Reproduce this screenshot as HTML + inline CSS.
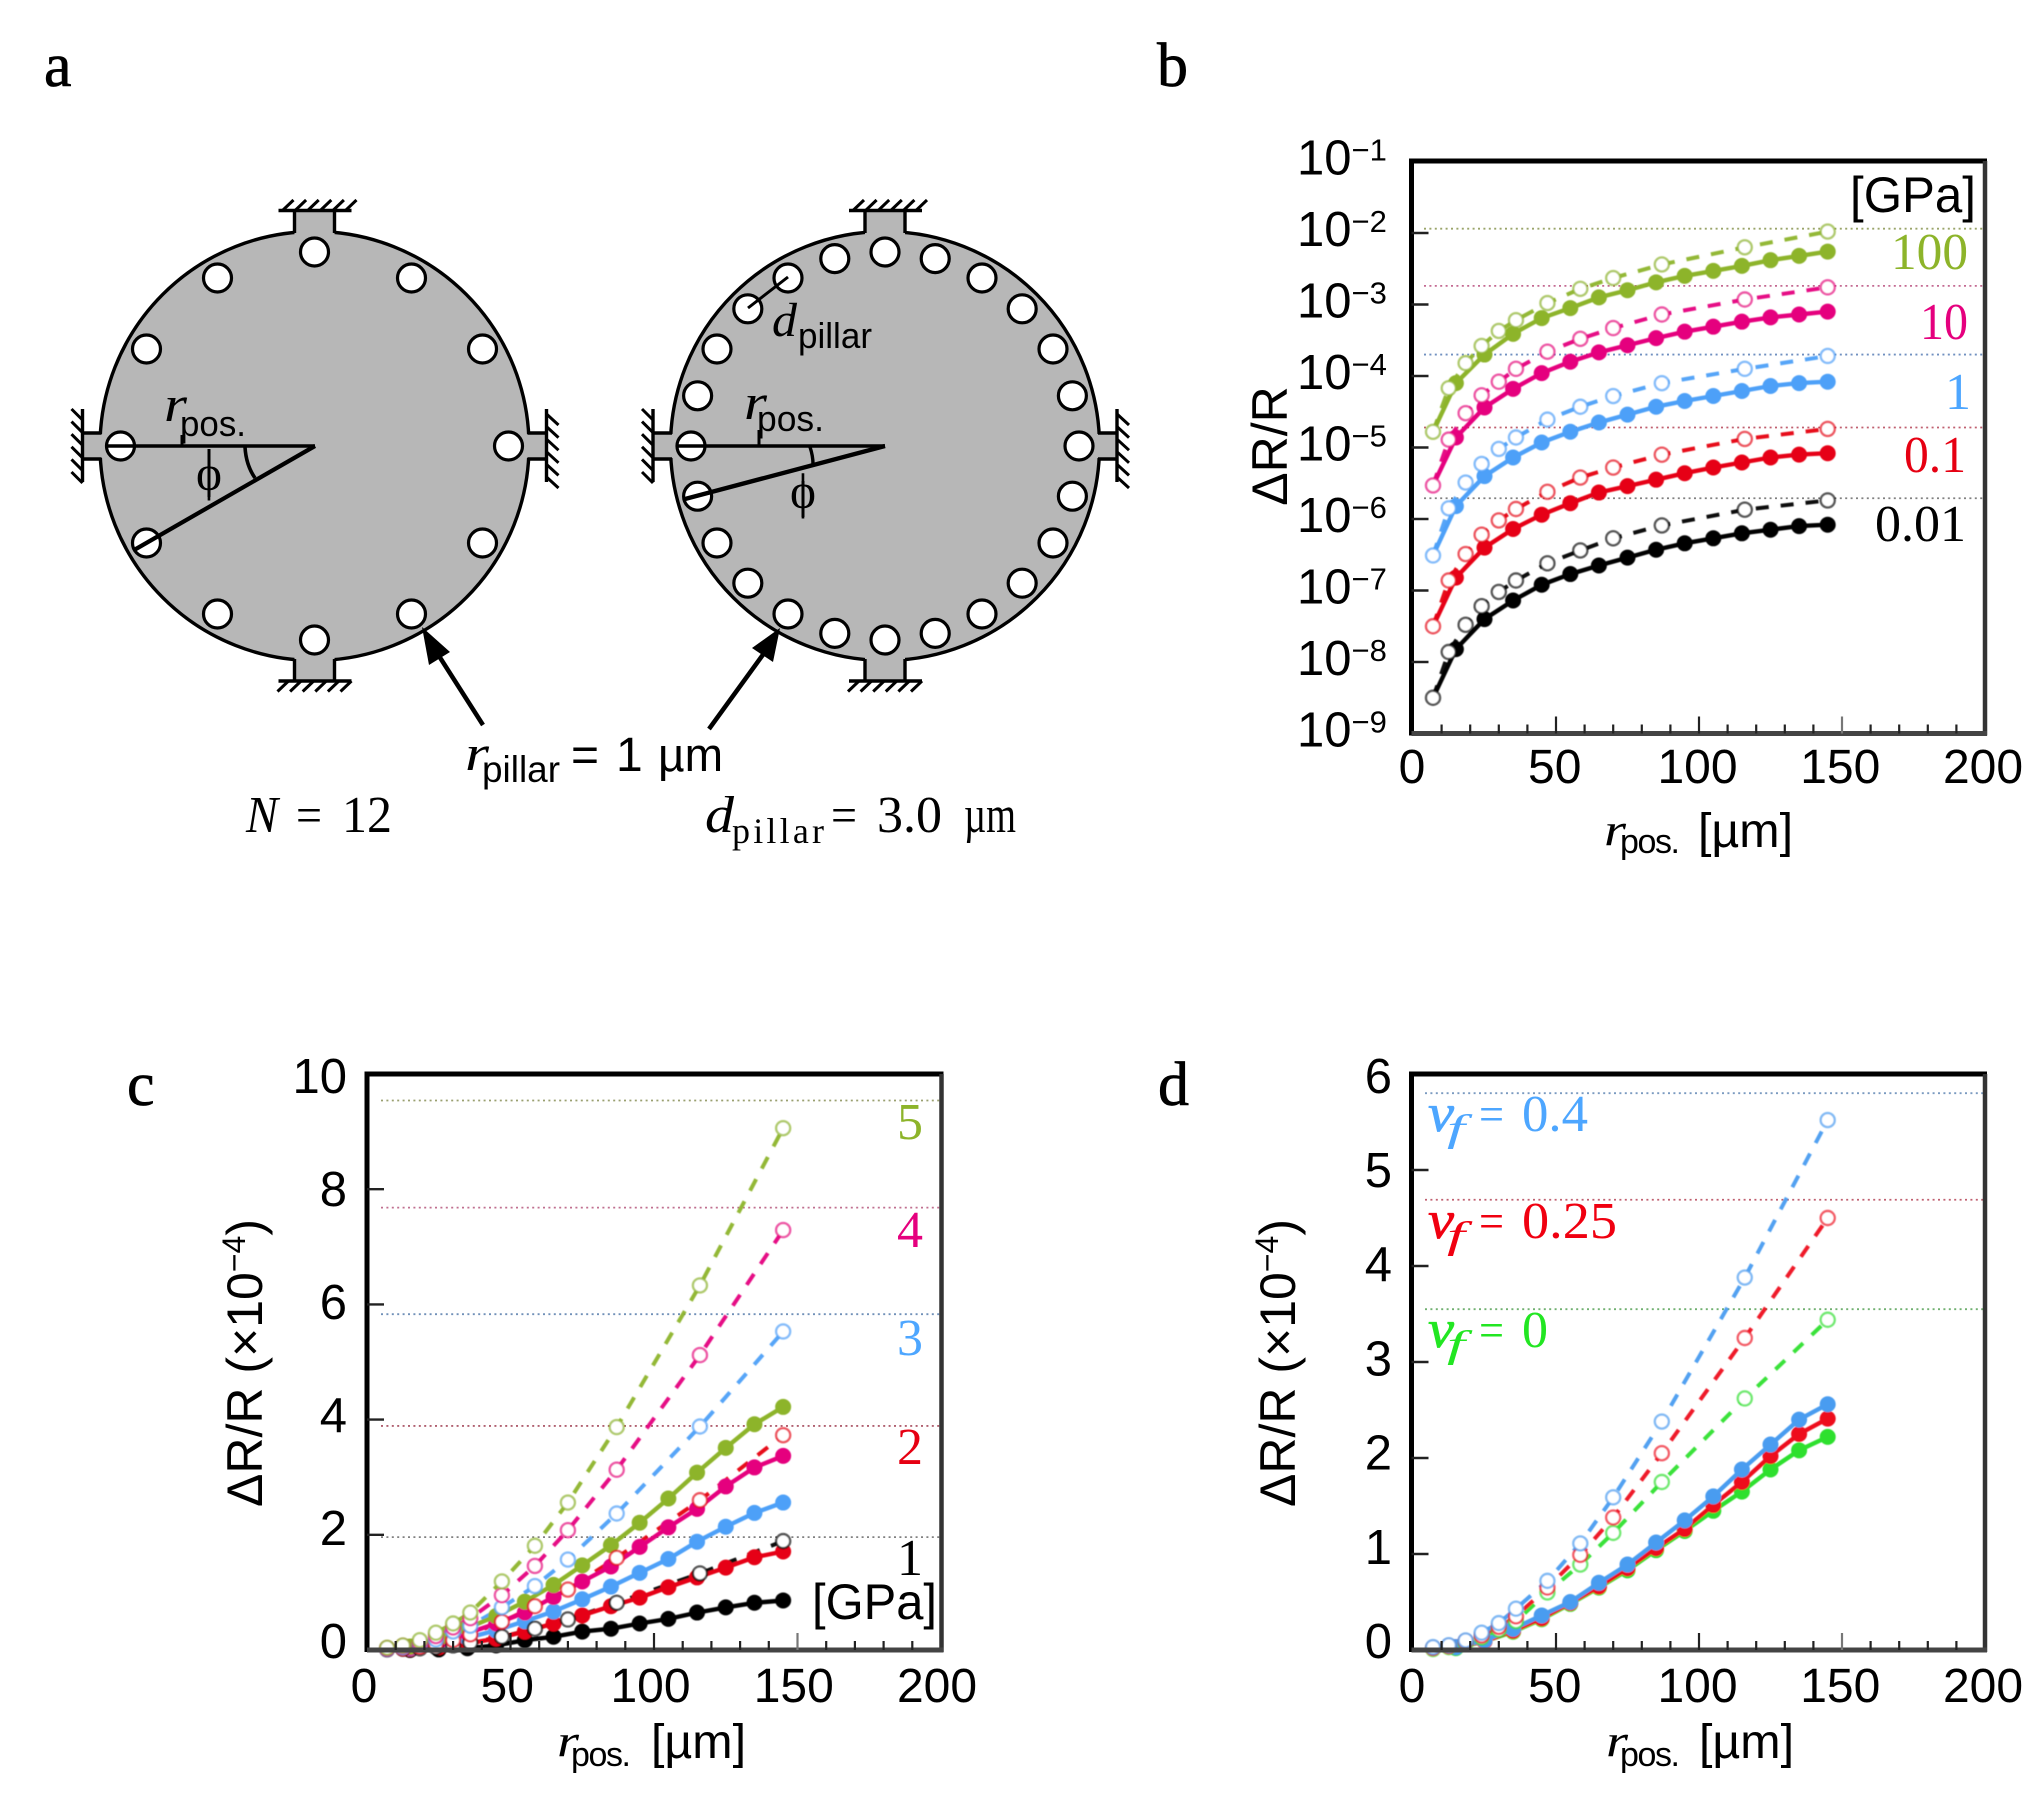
<!DOCTYPE html>
<html lang="en">
<head>
<meta charset="utf-8">
<title>Resistance change versus pillar position</title>
<style>
html,body{margin:0;padding:0;background:#fff;}
svg{display:block;}
.sans{font-family:"Liberation Sans",sans-serif;}
.serif{font-family:"Liberation Serif",serif;}
.it{font-family:"Liberation Serif",serif;font-style:italic;}
.heavy{stroke:currentColor;stroke-width:0.7;}
</style>
</head>
<body>
<svg id="figure" xmlns="http://www.w3.org/2000/svg" width="2044" height="1799" viewBox="0 0 2044 1799">
<defs>
<filter id="soft" x="-5%" y="-5%" width="110%" height="110%"><feGaussianBlur stdDeviation="0.55"/></filter>
</defs>
<rect width="2044" height="1799" fill="#fff"/>

<!-- panel letters -->
<text class="serif heavy" x="44" y="86" font-size="62" color="#000">a</text>
<text class="serif heavy" x="1157" y="86" font-size="62" color="#000">b</text>
<text class="serif heavy" x="127" y="1105" font-size="62" color="#000">c</text>
<text class="serif heavy" x="1158" y="1105" font-size="62" color="#000">d</text>

<g id="schematics"></g>

<!-- schematic annotations, left -->
<g>
<line x1="182" y1="435" x2="182" y2="446" stroke="#000" stroke-width="3"/>
<text class="it" x="164" y="421" font-size="50" textLength="23" lengthAdjust="spacingAndGlyphs">r</text>
<text class="sans" x="180" y="436" font-size="36" textLength="66" lengthAdjust="spacingAndGlyphs">pos.</text>
<text class="serif" x="209" y="490" font-size="50" text-anchor="middle" textLength="26" lengthAdjust="spacingAndGlyphs">ϕ</text>
<line x1="209" y1="449" x2="209" y2="497" stroke="#000" stroke-width="3"/>
</g>
<!-- schematic annotations, right -->
<g>
<line x1="759" y1="430" x2="759" y2="446" stroke="#000" stroke-width="3"/>
<text class="it" x="744" y="419" font-size="50" textLength="23" lengthAdjust="spacingAndGlyphs">r</text>
<text class="sans" x="757" y="431" font-size="36" textLength="67" lengthAdjust="spacingAndGlyphs">pos.</text>
<text class="serif" x="803" y="508" font-size="50" text-anchor="middle" textLength="26" lengthAdjust="spacingAndGlyphs">ϕ</text>
<line x1="803" y1="481" x2="803" y2="517" stroke="#000" stroke-width="3"/>
<line x1="748" y1="308" x2="788" y2="277" stroke="#000" stroke-width="3"/>
<text class="it" x="772" y="336" font-size="48" textLength="25" lengthAdjust="spacingAndGlyphs">d</text>
<text class="sans" x="798" y="348" font-size="36" textLength="74" lengthAdjust="spacingAndGlyphs">pillar</text>
</g>

<g>
<line x1="483" y1="725" x2="432" y2="645" stroke="#000" stroke-width="4.5"/>
<polygon points="422,627 450,652 429,665" fill="#000"/>
<line x1="709" y1="729" x2="770" y2="645" stroke="#000" stroke-width="4.5"/>
<polygon points="780,628 773,662 752,648" fill="#000"/>
<text class="it" x="465" y="770" font-size="50" textLength="24" lengthAdjust="spacingAndGlyphs">r</text>
<text class="sans" x="482" y="782" font-size="37" textLength="78" lengthAdjust="spacingAndGlyphs">pillar</text>
<text class="sans" x="571" y="771" font-size="48" textLength="28" lengthAdjust="spacingAndGlyphs">=</text>
<text class="sans" x="616" y="771" font-size="48">1</text>
<text class="sans" x="658" y="771" font-size="47" textLength="65" lengthAdjust="spacingAndGlyphs">µm</text>
</g>
<g>
<text class="it" x="246" y="832" font-size="52" textLength="32" lengthAdjust="spacingAndGlyphs">N</text>
<text class="serif" x="296" y="832" font-size="50" textLength="26" lengthAdjust="spacingAndGlyphs">=</text>
<text class="serif" x="342" y="832" font-size="52" textLength="50" lengthAdjust="spacingAndGlyphs">12</text>
</g>
<g>
<text class="it" x="705" y="832" font-size="52" textLength="29" lengthAdjust="spacingAndGlyphs">d</text>
<text class="serif" x="732" y="843" font-size="36" textLength="92" lengthAdjust="spacing">pillar</text>
<text class="serif" x="831" y="832" font-size="50" textLength="26" lengthAdjust="spacingAndGlyphs">=</text>
<text class="serif" x="877" y="832" font-size="52" textLength="65" lengthAdjust="spacingAndGlyphs">3.0</text>
<text class="serif" x="964" y="832" font-size="52" textLength="52" lengthAdjust="spacingAndGlyphs">µm</text>
</g>

<g id="chart-b"></g>
<g id="chart-c"></g>
<g id="chart-d"></g>

<!-- axis titles -->
<text class="sans" transform="translate(1287,446) rotate(-90)" text-anchor="middle" font-size="50">ΔR/R</text>
<g>
<text class="it" x="1604" y="845" font-size="46" textLength="22" lengthAdjust="spacingAndGlyphs">r</text>
<text class="sans" x="1620" y="853" font-size="34" textLength="60" lengthAdjust="spacing">pos.</text>
<text class="sans" x="1698" y="847" font-size="48" textLength="95" lengthAdjust="spacingAndGlyphs">[µm]</text>
</g>
<text class="sans" transform="translate(262,1363) rotate(-90)" text-anchor="middle" font-size="50">ΔR/R (×10<tspan dy="-17" font-size="32">−4</tspan><tspan dy="17">)</tspan></text>
<g>
<text class="it" x="557" y="1756" font-size="46" textLength="22" lengthAdjust="spacingAndGlyphs">r</text>
<text class="sans" x="571" y="1766" font-size="34" textLength="60" lengthAdjust="spacing">pos.</text>
<text class="sans" x="651" y="1758" font-size="48" textLength="95" lengthAdjust="spacingAndGlyphs">[µm]</text>
</g>
<text class="sans" transform="translate(1295,1363) rotate(-90)" text-anchor="middle" font-size="50">ΔR/R (×10<tspan dy="-17" font-size="32">−4</tspan><tspan dy="17">)</tspan></text>
<g>
<text class="it" x="1606" y="1756" font-size="46" textLength="22" lengthAdjust="spacingAndGlyphs">r</text>
<text class="sans" x="1620" y="1766" font-size="34" textLength="60" lengthAdjust="spacing">pos.</text>
<text class="sans" x="1699" y="1758" font-size="48" textLength="95" lengthAdjust="spacingAndGlyphs">[µm]</text>
</g>

<!-- chart b labels -->
<text class="sans" x="1850" y="212" font-size="50" textLength="126" lengthAdjust="spacingAndGlyphs">[GPa]</text>
<text class="serif" x="1891" y="269" font-size="52" textLength="77" lengthAdjust="spacingAndGlyphs" fill="#8db42a">100</text>
<text class="serif" x="1920" y="339" font-size="52" textLength="48" lengthAdjust="spacingAndGlyphs" fill="#e5007e">10</text>
<text class="serif" x="1945" y="409" font-size="52" fill="#4da6ff">1</text>
<text class="serif" x="1904" y="472" font-size="52" textLength="62" lengthAdjust="spacingAndGlyphs" fill="#e60012">0.1</text>
<text class="serif" x="1875" y="541" font-size="52" textLength="91" lengthAdjust="spacingAndGlyphs" fill="#000">0.01</text>

<!-- chart c labels -->
<text class="serif" x="897" y="1139" font-size="52" fill="#8db42a">5</text>
<text class="serif" x="897" y="1247" font-size="52" fill="#e5007e">4</text>
<text class="serif" x="897" y="1355" font-size="52" fill="#4da6ff">3</text>
<text class="serif" x="897" y="1464" font-size="52" fill="#e60012">2</text>
<text class="serif" x="897" y="1575" font-size="52" fill="#000">1</text>
<text class="sans" x="812" y="1619" font-size="50" textLength="125" lengthAdjust="spacingAndGlyphs">[GPa]</text>

<!-- chart d labels -->
<g fill="#4da6ff">
<text class="it heavy" x="1428" y="1131" font-size="54" textLength="26" lengthAdjust="spacingAndGlyphs" color="#4da6ff">ν</text>
<text class="it" x="1447" y="1141" font-size="38" textLength="18" lengthAdjust="spacingAndGlyphs">f</text>
<text class="serif" x="1479" y="1131" font-size="50" textLength="25" lengthAdjust="spacingAndGlyphs">=</text>
<text class="serif" x="1522" y="1131" font-size="52" textLength="66" lengthAdjust="spacingAndGlyphs">0.4</text>
</g>
<g fill="#f00010">
<text class="it heavy" x="1428" y="1238" font-size="54" textLength="26" lengthAdjust="spacingAndGlyphs" color="#f00010">ν</text>
<text class="it" x="1447" y="1248" font-size="38" textLength="18" lengthAdjust="spacingAndGlyphs">f</text>
<text class="serif" x="1479" y="1238" font-size="50" textLength="25" lengthAdjust="spacingAndGlyphs">=</text>
<text class="serif" x="1522" y="1238" font-size="52" textLength="95" lengthAdjust="spacingAndGlyphs">0.25</text>
</g>
<g fill="#22e622">
<text class="it heavy" x="1428" y="1347" font-size="54" textLength="26" lengthAdjust="spacingAndGlyphs" color="#22e622">ν</text>
<text class="it" x="1447" y="1357" font-size="38" textLength="18" lengthAdjust="spacingAndGlyphs">f</text>
<text class="serif" x="1479" y="1347" font-size="50" textLength="25" lengthAdjust="spacingAndGlyphs">=</text>
<text class="serif" x="1522" y="1347" font-size="52">0</text>
</g>
</svg>

<script>
// ---------- shared x positions (µm) ----------
const openPositions = [7, 12.5, 18.4, 24, 30, 36, 47, 58.5, 70, 87, 116, 145];
const filledPositions = [15, 25, 35, 45, 55, 65, 75, 85, 95, 105, 115, 125, 135, 145];
const xTickValues = [0, 50, 100, 150, 200];

// ---------- chart b: exponent of dR/R ----------
const bTickExponents = [-1, -2, -3, -4, -5, -6, -7, -8, -9];
const bOpen001 = [-8.5, -7.86, -7.48, -7.22, -7.02, -6.86, -6.62, -6.44, -6.27, -6.09, -5.87, -5.74];
const bOpen01 = [-7.5, -6.86, -6.49, -6.22, -6.02, -5.86, -5.62, -5.42, -5.28, -5.1, -4.88, -4.74];
const bOpen1 = [-6.51, -5.85, -5.49, -5.23, -5.02, -4.86, -4.61, -4.43, -4.28, -4.1, -3.9, -3.72];
const bOpen10 = [-5.53, -4.89, -4.52, -4.27, -4.08, -3.9, -3.66, -3.48, -3.33, -3.14, -2.93, -2.76];
const bOpen100 = [-4.78, -4.17, -3.82, -3.58, -3.37, -3.22, -2.98, -2.78, -2.63, -2.44, -2.2, -1.98];
const bFilled001 = [-7.82, -7.4, -7.14, -6.92, -6.77, -6.65, -6.54, -6.43, -6.34, -6.27, -6.2, -6.15, -6.1, -6.08];
const bFilled01 = [-6.82, -6.4, -6.14, -5.94, -5.78, -5.63, -5.54, -5.45, -5.36, -5.28, -5.21, -5.14, -5.1, -5.08];
const bFilled1 = [-5.82, -5.4, -5.14, -4.93, -4.78, -4.65, -4.54, -4.43, -4.35, -4.28, -4.21, -4.14, -4.1, -4.08];
const bFilled10 = [-4.86, -4.44, -4.18, -3.96, -3.8, -3.67, -3.57, -3.47, -3.38, -3.31, -3.24, -3.18, -3.14, -3.1];
const bFilled100 = [-4.1, -3.7, -3.41, -3.19, -3.05, -2.9, -2.8, -2.69, -2.6, -2.53, -2.46, -2.38, -2.32, -2.26];
const bReference = [-5.71, -4.72, -3.7, -2.74, -1.94];

// ---------- chart c: dR/R x 10^4 ----------
const cTickValues = [0, 2, 4, 6, 8, 10];
const cOpen1 = [0.01, 0.02, 0.03, 0.05, 0.08, 0.13, 0.23, 0.37, 0.53, 0.82, 1.33, 1.89];
const cOpen2 = [0.02, 0.03, 0.06, 0.1, 0.17, 0.27, 0.49, 0.76, 1.05, 1.6, 2.6, 3.73];
const cOpen3 = [0.02, 0.05, 0.1, 0.18, 0.32, 0.42, 0.74, 1.11, 1.57, 2.37, 3.88, 5.53];
const cOpen4 = [0.03, 0.07, 0.13, 0.24, 0.39, 0.55, 0.95, 1.46, 2.08, 3.13, 5.12, 7.29];
const cOpen5 = [0.04, 0.08, 0.17, 0.3, 0.46, 0.65, 1.19, 1.81, 2.56, 3.87, 6.33, 9.06];
const cFilled1 = [0, 0.01, 0.03, 0.08, 0.17, 0.23, 0.32, 0.37, 0.46, 0.54, 0.65, 0.74, 0.82, 0.86];
const cFilled2 = [0.02, 0.05, 0.11, 0.2, 0.32, 0.46, 0.6, 0.76, 0.91, 1.09, 1.26, 1.43, 1.61, 1.71];
const cFilled3 = [0.03, 0.11, 0.21, 0.34, 0.5, 0.67, 0.88, 1.1, 1.34, 1.58, 1.88, 2.14, 2.38, 2.56];
const cFilled4 = [0.04, 0.14, 0.29, 0.46, 0.65, 0.92, 1.19, 1.45, 1.79, 2.13, 2.45, 2.84, 3.17, 3.37];
const cFilled5 = [0.06, 0.2, 0.38, 0.59, 0.84, 1.13, 1.47, 1.82, 2.21, 2.63, 3.08, 3.51, 3.92, 4.22];
const cReference = [1.96, 3.89, 5.83, 7.68, 9.54];

// ---------- chart d: dR/R x 10^4 ----------
const dTickValues = [0, 1, 2, 3, 4, 5, 6];
const dOpenV0 = [0.01, 0.03, 0.07, 0.13, 0.21, 0.3, 0.6, 0.89, 1.22, 1.75, 2.62, 3.44];
const dOpenV25 = [0.02, 0.04, 0.09, 0.15, 0.24, 0.35, 0.65, 0.99, 1.38, 2.05, 3.25, 4.5];
const dOpenV4 = [0.03, 0.05, 0.1, 0.18, 0.28, 0.43, 0.72, 1.11, 1.59, 2.38, 3.88, 5.52];
const dFilledV0 = [0.02, 0.09, 0.19, 0.32, 0.48, 0.65, 0.83, 1.04, 1.24, 1.45, 1.65, 1.88, 2.08, 2.22];
const dFilledV25 = [0.03, 0.09, 0.2, 0.33, 0.49, 0.66, 0.85, 1.06, 1.26, 1.51, 1.75, 2.02, 2.25, 2.41];
const dFilledV4 = [0.03, 0.1, 0.22, 0.36, 0.5, 0.7, 0.89, 1.12, 1.35, 1.6, 1.88, 2.14, 2.4, 2.56];
const dReference = [3.55, 4.69, 5.8];

const SVG_NS = 'http://www.w3.org/2000/svg';
function make(parent, tag, attrs, name) {
  const el = document.createElementNS(SVG_NS, tag);
  for (const k in attrs) el.setAttribute(k, attrs[k]);
  
  
  parent.appendChild(el);
  return el;
}
function pathFrom(xs, ys) {
  return xs.map((x, i) => (i ? 'L' : 'M') + x.toFixed(1) + ' ' + ys[i].toFixed(1)).join(' ');
}

function drawChart(cfg) {
  const root = document.getElementById(cfg.id);
  const X = v => cfg.x0 + v * cfg.sx;

  // reference dotted lines
  cfg.reference.forEach((v, i) => {
    make(root, 'line', {x1: cfg.refStart, x2: cfg.right, y1: cfg.y(v), y2: cfg.y(v),
      stroke: cfg.refColors[i], 'stroke-width': 1.8, 'stroke-dasharray': '2 3.4'}, cfg.id + '-reference-line');
  });

  // marks
  const marks = make(root, 'g', {filter: 'url(#soft)'}, cfg.id + '-series');
  cfg.series.forEach(s => {
    const oX = openPositions.map(X);
    const oY = s.open.map(cfg.y);
    make(marks, 'path', {d: pathFrom(oX, oY), fill: 'none', stroke: s.color, 'stroke-width': 4,
      'stroke-dasharray': '13 12', opacity: 0.95}, cfg.id + '-dashed-line-' + s.key);
  });
  cfg.series.forEach(s => {
    const fX = [X(openPositions[0])].concat(filledPositions.map(X));
    const fY = [cfg.y(s.open[0])].concat(s.filled.map(cfg.y));
    make(marks, 'path', {d: pathFrom(fX, fY), fill: 'none', stroke: s.color, 'stroke-width': 4.4}, cfg.id + '-solid-line-' + s.key);
    s.filled.forEach((v, i) => {
      make(marks, 'circle', {cx: X(filledPositions[i]), cy: cfg.y(v), r: 8, fill: s.color}, cfg.id + '-filled-point-' + s.key);
    });
  });
  cfg.series.forEach(s => {
    s.open.forEach((v, i) => {
      make(marks, 'circle', {cx: X(openPositions[i]), cy: cfg.y(v), r: 7, fill: '#fff', stroke: s.color,
        'stroke-width': 2.4, 'stroke-opacity': 0.7}, cfg.id + '-open-point-' + s.key);
    });
  });

  // frame
  make(root, 'line', {x1: cfg.left, x2: cfg.left, y1: cfg.top - 2.5, y2: cfg.bottom + 2, stroke: '#000', 'stroke-width': 5}, cfg.id + '-frame-left');
  make(root, 'line', {x1: cfg.left, x2: cfg.right + 2, y1: cfg.top, y2: cfg.top, stroke: '#000', 'stroke-width': 5}, cfg.id + '-frame-top');
  make(root, 'line', {x1: cfg.right, x2: cfg.right, y1: cfg.top, y2: cfg.bottom + 2, stroke: '#333', 'stroke-width': 4.5}, cfg.id + '-frame-right');
  make(root, 'line', {x1: cfg.left, x2: cfg.right + 2, y1: cfg.bottom, y2: cfg.bottom, stroke: '#444', 'stroke-width': 5}, cfg.id + '-frame-bottom');

  // x ticks and labels
  for (let m = 10; m < 200; m += 10) {
    const major = m % 50 === 0;
    make(root, 'line', {x1: X(m), x2: X(m), y1: cfg.bottom, y2: cfg.bottom - (major ? 17 : 9),
      stroke: major && m === 150 ? '#777' : '#222', 'stroke-width': 2.2}, cfg.id + '-x-tick');
  }
  xTickValues.forEach(v => {
    const t = make(root, 'text', {x: cfg.xLabel(v), y: cfg.xLabelY, 'text-anchor': 'middle', 'font-size': 48, class: 'sans'}, cfg.id + '-x-tick-label');
    t.textContent = String(v);
  });

  // y ticks and labels
  cfg.yTicks.forEach(v => {
    if (v !== cfg.yTicks[0] && v !== cfg.yTicks[cfg.yTicks.length - 1]) {
      make(root, 'line', {x1: cfg.left, x2: cfg.left + 17, y1: cfg.y(v), y2: cfg.y(v), stroke: '#222', 'stroke-width': 2.4}, cfg.id + '-y-tick');
    }
    cfg.yLabel(root, v);
  });
}

// chart b
const bY = e => 161.5 + (-1 - e) * 71.5;
drawChart({
  id: 'chart-b', x0: 1413, sx: 2.86, left: 1411.5, right: 1985, top: 161, bottom: 733.5,
  xLabelY: 783, xLabel: v => 1412 + v * 2.855, refStart: 1424, y: bY,
  yTicks: bTickExponents,
  reference: bReference,
  refColors: ['#808080', '#c06070', '#7090c0', '#c46a92', '#9aa56a'],
  series: [
    {key: '0-01-gpa', color: '#000000', open: bOpen001, filled: bFilled001},
    {key: '0-1-gpa', color: '#e60012', open: bOpen01, filled: bFilled01},
    {key: '1-gpa', color: '#4da0f8', open: bOpen1, filled: bFilled1},
    {key: '10-gpa', color: '#e5007e', open: bOpen10, filled: bFilled10},
    {key: '100-gpa', color: '#8db42a', open: bOpen100, filled: bFilled100}
  ],
  yLabel(root, e) {
    const t = make(root, 'text', {x: 1297, y: bY(e) + 13, 'font-size': 49, class: 'sans'}, 'chart-b-y-tick-label');
    t.appendChild(document.createTextNode('10'));
    const s = make(t, 'tspan', {dy: -14, 'font-size': 31}, 'chart-b-y-tick-exponent');
    s.textContent = '−' + Math.abs(e);
  }
});

// chart c
const cY = v => 1650 - v * 57.6;
drawChart({
  id: 'chart-c', x0: 367, sx: 2.87, left: 367, right: 941.5, top: 1074, bottom: 1650,
  xLabelY: 1702, xLabel: v => 364 + v * 2.865, refStart: 381, y: cY,
  yTicks: cTickValues,
  reference: cReference,
  refColors: ['#808080', '#b06070', '#7090b8', '#c07090', '#9aa070'],
  series: [
    {key: '1-gpa', color: '#000000', open: cOpen1, filled: cFilled1},
    {key: '2-gpa', color: '#e60012', open: cOpen2, filled: cFilled2},
    {key: '3-gpa', color: '#4da0f8', open: cOpen3, filled: cFilled3},
    {key: '4-gpa', color: '#e5007e', open: cOpen4, filled: cFilled4},
    {key: '5-gpa', color: '#8db42a', open: cOpen5, filled: cFilled5}
  ],
  yLabel(root, v) {
    const t = make(root, 'text', {x: 347, y: 1658 - v * 56.5, 'text-anchor': 'end', 'font-size': 49, class: 'sans'}, 'chart-c-y-tick-label');
    t.textContent = String(v);
  }
});

// chart d
const dY = v => 1650 - v * 96;
drawChart({
  id: 'chart-d', x0: 1413, sx: 2.86, left: 1411.5, right: 1985, top: 1074, bottom: 1650,
  xLabelY: 1702, xLabel: v => 1412 + v * 2.855, refStart: 1425, y: dY,
  yTicks: dTickValues,
  reference: dReference,
  refColors: ['#70b070', '#c06070', '#7a9ac0'],
  series: [
    {key: 'vf-0', color: '#2fe02f', open: dOpenV0, filled: dFilledV0},
    {key: 'vf-0-25', color: '#ee0a1e', open: dOpenV25, filled: dFilledV25},
    {key: 'vf-0-4', color: '#4a9cf0', open: dOpenV4, filled: dFilledV4}
  ],
  yLabel(root, v) {
    const t = make(root, 'text', {x: 1392, y: 1658 - v * 94.2, 'text-anchor': 'end', 'font-size': 49, class: 'sans'}, 'chart-d-y-tick-label');
    t.textContent = String(v);
  }
});

// ---------- schematics ----------
function drawDisc(cx, cy, count, name) {
  const root = document.getElementById('schematics');
  const g = make(root, 'g', {}, name);
  const R = 214.5, gray = '#b7b7b7';
  make(g, 'circle', {cx: cx, cy: cy, r: R, fill: gray, stroke: '#000', 'stroke-width': 3.4}, name + '-membrane');
  // anchors
  make(g, 'rect', {x: cx - 20, y: cy - 235.5, width: 40, height: 28, fill: gray}, name + '-anchor-top');
  make(g, 'rect', {x: cx - 20, y: cy + 207.5, width: 40, height: 28, fill: gray}, name + '-anchor-bottom');
  make(g, 'rect', {x: cx - 232, y: cy - 12, width: 26, height: 24, fill: gray}, name + '-anchor-left');
  make(g, 'rect', {x: cx + 206, y: cy - 12, width: 26, height: 24, fill: gray}, name + '-anchor-right');
  [[-20, -235.5, -20, -213], [20, -235.5, 20, -213], [-20, 213, -20, 235.5], [20, 213, 20, 235.5],
   [-232, -13, -213, -13], [-232, 13, -213, 13], [213, -13, 232, -13], [213, 13, 232, 13]].forEach(s => {
    make(g, 'line', {x1: cx + s[0], y1: cy + s[1], x2: cx + s[2], y2: cy + s[3], stroke: '#000', 'stroke-width': 3.4}, name + '-anchor-edge');
  });
  // walls
  make(g, 'line', {x1: cx - 36, x2: cx + 37, y1: cy - 235.5, y2: cy - 235.5, stroke: '#000', 'stroke-width': 3.4}, name + '-wall-top');
  make(g, 'line', {x1: cx - 36, x2: cx + 37, y1: cy + 235, y2: cy + 235, stroke: '#000', 'stroke-width': 3.4}, name + '-wall-bottom');
  make(g, 'line', {x1: cx - 232, x2: cx - 232, y1: cy - 37, y2: cy + 36, stroke: '#000', 'stroke-width': 3.4}, name + '-wall-left');
  make(g, 'line', {x1: cx + 232, x2: cx + 232, y1: cy - 37, y2: cy + 36, stroke: '#000', 'stroke-width': 3.4}, name + '-wall-right');
  for (let i = 0; i < 6; i++) {
    const d = -32 + i * 12.6;
    make(g, 'line', {x1: cx + d, y1: cy - 235.5, x2: cx + d + 11, y2: cy - 246, stroke: '#000', 'stroke-width': 3}, name + '-hatch-top');
    make(g, 'line', {x1: cx + d + 6, y1: cy + 235, x2: cx + d - 5, y2: cy + 245.5, stroke: '#000', 'stroke-width': 3}, name + '-hatch-bottom');
    make(g, 'line', {x1: cx - 232, y1: cy + d + 6, x2: cx - 243, y2: cy + d - 5, stroke: '#000', 'stroke-width': 3}, name + '-hatch-left');
    make(g, 'line', {x1: cx + 232, y1: cy + d, x2: cx + 244, y2: cy + d + 11, stroke: '#000', 'stroke-width': 3}, name + '-hatch-right');
  }
  // pillars
  for (let i = 0; i < count; i++) {
    const a = i * 2 * Math.PI / count;
    make(g, 'circle', {cx: cx + 194 * Math.cos(a), cy: cy + 194 * Math.sin(a), r: 14, fill: '#fff', stroke: '#000', 'stroke-width': 3.2}, name + '-pillar');
  }
}
drawDisc(314.5, 446, 12, 'disc-12-pillars');
drawDisc(885, 446, 24, 'disc-24-pillars');

// radius lines on top of the pillars
const sch = document.getElementById('schematics');
make(sch, 'line', {x1: 105, y1: 446, x2: 315, y2: 446, stroke: '#000', 'stroke-width': 3.6}, 'left-radius-line');
make(sch, 'line', {x1: 135, y1: 549.5, x2: 315, y2: 446, stroke: '#000', 'stroke-width': 4.2}, 'left-angle-line');
make(sch, 'path', {d: 'M245 447 Q246 465 255 478', fill: 'none', stroke: '#000', 'stroke-width': 3.6}, 'left-angle-arc');
make(sch, 'line', {x1: 676, y1: 446, x2: 885, y2: 446, stroke: '#000', 'stroke-width': 3.6}, 'right-radius-line');
make(sch, 'line', {x1: 685, y1: 499, x2: 885, y2: 446, stroke: '#000', 'stroke-width': 4.4}, 'right-angle-line');
make(sch, 'path', {d: 'M810 447 Q813 456 813 464', fill: 'none', stroke: '#000', 'stroke-width': 3.4}, 'right-angle-arc');
</script>
</body>
</html>
